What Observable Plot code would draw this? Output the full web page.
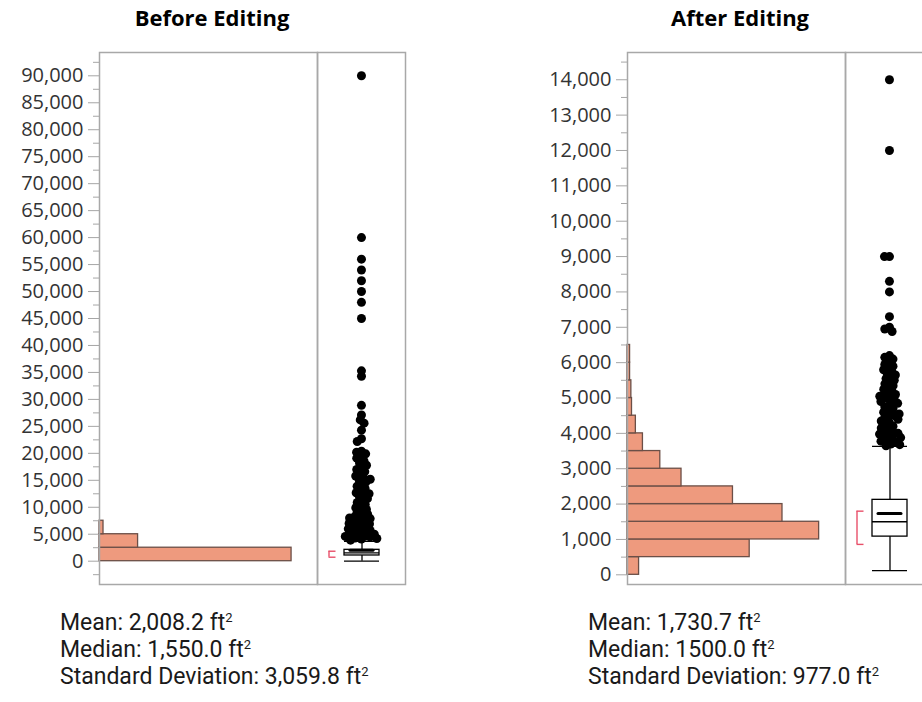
<!DOCTYPE html>
<html><head><meta charset="utf-8">
<script src="https://cdn.jsdelivr.net/npm/d3@7"></script>
<script src="https://cdn.jsdelivr.net/npm/@observablehq/plot@0.6"></script>
<style>
html,body{margin:0;padding:0;background:#fff;overflow:hidden;}
#root{position:relative;width:922px;height:702px;font-family:"Open Sans",sans-serif;}
.abs{position:absolute;}
.title{font-weight:700;font-size:22px;line-height:27px;white-space:nowrap;transform:translateX(-50%);color:#000;}
.stats{font-family:Roboto,sans-serif;font-size:23px;line-height:27px;white-space:nowrap;color:#1a1a1a;}
.stats sup{font-size:13px;line-height:0;vertical-align:8px;}
svg{max-width:none !important;}
</style></head>
<body><div id="root"></div>
<script>
// ---------- data ----------
const panelTitles = ["Before Editing", "After Editing"];

const beforeBinEdges = [0, 2500, 5000, 7500];
const beforeCounts = [911, 183, 19];
const afterBinEdges = [0, 500, 1000, 1500, 2000, 2500, 3000, 3500, 4000, 4500, 5000, 5500, 6000, 6500];
const afterCounts = [18, 190, 298, 241, 164, 84, 51, 24, 13, 7, 6, 4, 4];

// [lower whisker, Q1, median, Q3, upper whisker]
const beforeSummary = [0, 1060, 1550, 2110, 3700];
const afterSummary = [120, 1080, 1500, 2120, 3630];
const beforeMean = 2008.2;
const afterMean = 1730.7;
// shortest half bracket [low, high]
const beforeShortest = [740, 1850];
const afterShortest = [860, 1800];

const beforeOutliers = [90000, 60000, 56000, 54000, 52000, 50000, 48000, 45000, 35300, 34300,
  28900, 27100, 26200, 25600, 24300, 22700, 22200, 20400, 20200, 19900, 19400, 19100, 18600,
  18200, 17800, 17300, 17000, 16600, 16200, 15800, 15500, 15000, 14700, 14200, 13900, 13500,
  13000, 12700, 12300, 12000, 11600, 11200, 10900, 10500, 10200, 9900, 9600, 9300, 9000, 8700,
  8400, 8200, 7900, 7600, 7400, 7100, 6900, 6600, 6400, 6200, 5900, 5700, 5500, 5300, 5100,
  4900, 4700, 4500, 4300, 4100, 3900, 8000, 7000, 6000, 5000, 4600, 4200, 12500, 15200];
const afterOutliers = [14000, 12000, 9000, 9000, 8300, 8000, 7300, 7000, 6950, 6880, 6200, 6150,
  6100, 6000, 5950, 5900, 5850, 5750, 5700, 5650, 5600, 5550, 5450, 5400, 5350, 5300, 5200, 5150,
  5100, 5000, 5000, 4950, 4900, 4800, 4750, 4700, 4650, 4600, 4500, 4500, 4450, 4400, 4300, 4250,
  4200, 4100, 4050, 4000, 4000, 3950, 3900, 3850, 3800, 3750, 3700, 3650,
  5800, 5500, 5250, 5050, 4850, 4550, 4350, 4150, 3980, 3880, 3780, 3680];

const beforeStats = ["Mean: 2,008.2", "Median: 1,550.0", "Standard Deviation: 3,059.8"];
const afterStats = ["Mean: 1,730.7", "Median: 1500.0", "Standard Deviation: 977.0"];
const unit = "ft";

const beforeMajorTicks = d3.range(0, 90001, 5000);
const beforeMinorTicks = d3.range(-2500, 92501, 5000);
const afterMajorTicks = d3.range(0, 14001, 1000);
const afterMinorTicks = d3.range(500, 14501, 1000);

const beforeYDomain = [-4320, 94320];
const afterYDomain = [-274, 14771];

// ---------- drawing ----------
const root = document.getElementById("root");
const fmt = d3.format(",");
const frameColor = "#a8a8a8";
const tickColor = "#a6a6a6";
const red = "#e8506a";
const baseStyle = {fontFamily: "'Open Sans', sans-serif", fontSize: "20px", background: "transparent", overflow: "visible", maxWidth: "none"};
const boxWidth = 88, boxPadding = 0.43;
const halfBand = boxWidth / (1 + boxPadding) * (1 - boxPadding) / 2;

function place(el, left, top) {
  const d = document.createElement("div");
  d.className = "abs";
  d.style.left = left + "px";
  d.style.top = top + "px";
  d.appendChild(el);
  root.appendChild(d);
}

function histogram(edges, counts, xMax, yDomain, major, minor, width, marginLeft) {
  const bins = counts.map((c, i) => ({lo: edges[i], hi: edges[i + 1], count: c}));
  return Plot.plot({
    width, height: 600, marginLeft, marginRight: 0, marginTop: 52, marginBottom: 16,
    style: baseStyle,
    x: {domain: [0, xMax], axis: null},
    y: {domain: yDomain, label: null},
    marks: [
      Plot.rectX(bins, {x: "count", y1: "lo", y2: "hi", fill: "#ee9a7e", stroke: "#6b4f47", strokeWidth: 1.3}),
      Plot.axisY(minor, {tickSize: 6, fill: "none", stroke: tickColor, tickFormat: () => "", label: null}),
      Plot.axisY(major, {tickSize: 11, tickPadding: 5, stroke: tickColor, fill: "#333", tickFormat: fmt, label: null}),
      Plot.frame({stroke: frameColor, strokeWidth: 1.5})
    ]
  });
}

function boxplot(summary, mean, shortest, outliers, yDomain) {
  const cat = "Living Area";
  const box = [{cat, lo: summary[0], q1: summary[1], med: summary[2], q3: summary[3], hi: summary[4],
    mean, sLo: shortest[0], sHi: shortest[1]}];
  return Plot.plot({
    width: boxWidth, height: 600, marginLeft: 0, marginRight: 0, marginTop: 52, marginBottom: 16,
    style: baseStyle,
    x: {type: "band", domain: [cat], padding: boxPadding, axis: null},
    y: {domain: yDomain, axis: null},
    marks: [
      Plot.frame({stroke: frameColor, strokeWidth: 1.5}),
      Plot.ruleX(box, {x: "cat", y1: "lo", y2: "q1", stroke: "black", strokeWidth: 1.3}),
      Plot.ruleX(box, {x: "cat", y1: "q3", y2: "hi", stroke: "black", strokeWidth: 1.3}),
      Plot.barY(box, {x: "cat", y1: "q1", y2: "q3", fill: "white", stroke: "black", strokeWidth: 1.3}),
      Plot.tickY(box, {x: "cat", y: "med", stroke: "black", strokeWidth: 1.3}),
      Plot.tickY(box, {x: "cat", y: "lo", stroke: "black", strokeWidth: 1.3}),
      Plot.tickY(box, {x: "cat", y: "hi", stroke: "black", strokeWidth: 1.3}),
      Plot.tickY(box, {x: "cat", y: "mean", insetLeft: 6, insetRight: 6, stroke: "black", strokeWidth: 3, strokeLinecap: "round"}),
      Plot.ruleX(box, {x: "cat", y1: "sLo", y2: "sHi", dx: -33, stroke: red, strokeWidth: 1.4}),
      Plot.tickY(box, {x: "cat", y: "sLo", insetRight: 28, dx: -15.5, stroke: red, strokeWidth: 1.4}),
      Plot.tickY(box, {x: "cat", y: "sHi", insetRight: 28, dx: -15.5, stroke: red, strokeWidth: 1.4}),
      Plot.dot(outliers, Plot.dodgeX({anchor: "middle", padding: 0, r: 2.5}, {y: d => d, r: 4.5, fill: "black", dx: -halfBand}))
    ]
  });
}

place(histogram(beforeBinEdges, beforeCounts, 1034, beforeYDomain, beforeMajorTicks, beforeMinorTicks, 317, 99), 0, 0);
place(boxplot(beforeSummary, beforeMean, beforeShortest, beforeOutliers, beforeYDomain), 317, 0);
place(histogram(afterBinEdges, afterCounts, 339, afterYDomain, afterMajorTicks, afterMinorTicks, 318, 100), 527, 0);
place(boxplot(afterSummary, afterMean, afterShortest, afterOutliers, afterYDomain), 845, 0);

function addTitle(text, cx) {
  const d = document.createElement("div");
  d.className = "abs title";
  d.style.left = cx + "px";
  d.style.top = "4px";
  d.textContent = text;
  root.appendChild(d);
}
addTitle(panelTitles[0], 212);
addTitle(panelTitles[1], 740);

function addStats(lines, left) {
  const d = document.createElement("div");
  d.className = "abs stats";
  d.style.left = left + "px";
  d.style.top = "609px";
  for (const line of lines) {
    const row = document.createElement("div");
    row.append(line + " " + unit);
    const sup = document.createElement("sup");
    sup.textContent = "2";
    row.appendChild(sup);
    d.appendChild(row);
  }
  root.appendChild(d);
}
addStats(beforeStats, 60);
addStats(afterStats, 588);
</script>
</body></html>
